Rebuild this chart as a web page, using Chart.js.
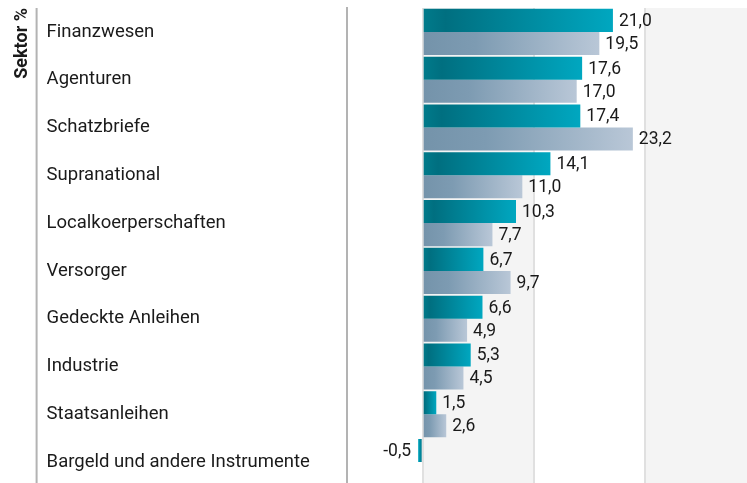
<!DOCTYPE html>
<html>
<head>
<meta charset="utf-8">
<script src="https://cdn.jsdelivr.net/npm/chart.js@4"></script>
<style>
  html, body { margin: 0; padding: 0; background: #fff; overflow: hidden; }
  #wrap { position: relative; width: 747px; height: 486px; }
</style>
</head>
<body>
<div id="wrap"><canvas id="sectorChart"></canvas></div>
<script>
    const categories = ['Finanzwesen', 'Agenturen', 'Schatzbriefe', 'Supranational', 'Localkoerperschaften',
        'Versorger', 'Gedeckte Anleihen', 'Industrie', 'Staatsanleihen', 'Bargeld und andere Instrumente'];
    const fundValues = [21.0, 17.6, 17.4, 14.1, 10.3, 6.7, 6.6, 5.3, 1.5, -0.5];
    const indexValues = [19.5, 17.0, 23.2, 11.0, 7.7, 9.7, 4.9, 4.5, 2.6, null];
    const gridTicks = [0, 12.25, 24.5];

    const FONT = 'Roboto, "Open Sans", sans-serif';

    // Per-bar horizontal gradient from zero to the bar end
    function barGradient(stops) {
        return function(context) {
            const chart = context.chart;
            const x = chart.scales.x;
            const v = context.raw;
            if (!x || v === null || v === undefined) return stops[stops.length - 1][1];
            const x0 = x.getPixelForValue(0);
            const x1 = x.getPixelForValue(v);
            if (!isFinite(x0) || !isFinite(x1) || x0 === x1) return stops[0][1];
            const g = chart.ctx.createLinearGradient(x0, 0, x1, 0);
            stops.forEach(s => g.addColorStop(s[0], s[1]));
            return g;
        };
    }

    // Alternating vertical bands behind the bars, plus the left separator line
    const bandsPlugin = {
        id: 'bands',
        beforeDraw(chart) {
            const { ctx, chartArea } = chart;
            const x = chart.scales.x;
            const edges = gridTicks.concat([x.max]);
            ctx.save();
            ctx.fillStyle = '#f4f4f4';
            for (let i = 0; i < edges.length - 1; i += 2) {
                const a = x.getPixelForValue(edges[i]);
                const b = x.getPixelForValue(edges[i + 1]);
                ctx.fillRect(a, chartArea.top, b - a, chart.height - chartArea.top);
            }
            ctx.restore();
        },
        afterDraw(chart) {
            const { ctx, chartArea } = chart;
            const y = chart.scales.y;
            ctx.save();
            ctx.strokeStyle = '#b3b3b3';
            ctx.lineWidth = 2;
            ctx.beginPath();
            ctx.moveTo(y.left - 10, chartArea.top);
            ctx.lineTo(y.left - 10, chart.height);
            ctx.stroke();
            ctx.restore();
        }
    };

    // Value labels at bar ends, German decimal comma
    const valueLabels = {
        id: 'valueLabels',
        afterDatasetsDraw(chart) {
            const ctx = chart.ctx;
            ctx.save();
            ctx.font = '17.5px ' + FONT;
            ctx.fillStyle = '#1a1a1a';
            ctx.textBaseline = 'middle';
            chart.data.datasets.forEach((ds, di) => {
                chart.getDatasetMeta(di).data.forEach((bar, i) => {
                    const v = ds.data[i];
                    if (v === null || v === undefined) return;
                    const txt = v.toFixed(1).replace('.', ',');
                    if (v >= 0) {
                        ctx.textAlign = 'left';
                        ctx.fillText(txt, bar.x + 6, bar.y + 1);
                    } else {
                        ctx.textAlign = 'right';
                        ctx.fillText(txt, bar.x - 7, bar.y + 1);
                    }
                });
            });
            ctx.restore();
        }
    };

    new Chart(document.getElementById('sectorChart'), {
        type: 'bar',
        data: {
            labels: categories,
            datasets: [{
                label: 'Fonds',
                data: fundValues,
                backgroundColor: barGradient([[0, '#007b8b'], [0.12, '#006f80'], [1, '#00a7c0']]),
                categoryPercentage: 0.965,
                barPercentage: 1
            }, {
                label: 'Index',
                data: indexValues,
                backgroundColor: barGradient([[0, '#7493aa'], [0.3, '#7d9bb2'], [1, '#b9c7d7']]),
                categoryPercentage: 0.965,
                barPercentage: 1
            }]
        },
        options: {
            indexAxis: 'y',
            responsive: true,
            maintainAspectRatio: false,
            animation: false,
            layout: { padding: { top: 8, left: 0, right: 0, bottom: 0 } },
            plugins: {
                legend: { display: false },
                tooltip: { enabled: false },
                title: {
                    display: true,
                    text: 'Sektor %',
                    position: 'left',
                    align: 'end',
                    color: '#1a1a1a',
                    font: { family: FONT, size: 18, weight: 'bold' },
                    padding: { top: 12, bottom: 13 }
                }
            },
            scales: {
                x: {
                    min: -8.4,
                    max: 35.8,
                    afterBuildTicks: function(scale) {
                        scale.ticks = gridTicks.map(v => ({ value: v }));
                    },
                    afterFit: function(scale) {
                        scale.height = 0;
                        scale.paddingLeft = 0;
                        scale.paddingRight = 0;
                    },
                    ticks: { display: false },
                    grid: { color: '#e0e0e0', lineWidth: 2, drawTicks: false },
                    border: { display: false }
                },
                y: {
                    afterFit: function(scale) {
                        scale.width = 300;
                        scale.paddingTop = 0;
                        scale.paddingBottom = 0;
                    },
                    ticks: {
                        crossAlign: 'far',
                        color: '#1a1a1a',
                        font: { family: FONT, size: 18.5 }
                    },
                    grid: { display: false, drawTicks: false },
                    border: { display: true, color: '#b3b3b3', width: 2 }
                }
            }
        },
        plugins: [bandsPlugin, valueLabels]
    });
</script>
</body>
</html>
